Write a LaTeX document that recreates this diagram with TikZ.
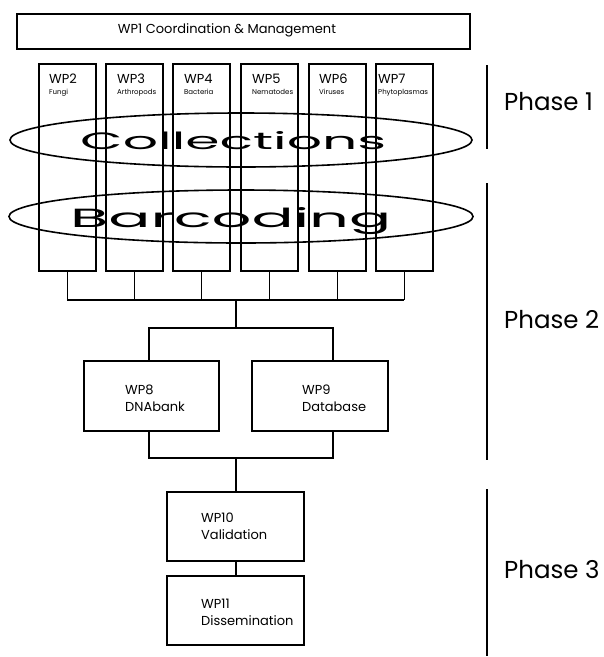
\documentclass[tikz,border=0pt]{standalone}
\usepackage{fontspec}
\setmainfont{Poppins}
\usetikzlibrary{shapes.geometric,calc}
\begin{document}
\begin{tikzpicture}[x=1pt,y=-1pt,
  box/.style={draw, line width=1.8pt, rectangle, inner sep=0pt, anchor=north west},
  conn/.style={line width=1.6pt},
  phaseline/.style={line width=1.6pt},
  oval/.style={draw, ellipse, line width=1.6pt, inner sep=0pt},
  lbl/.style={inner sep=0pt, anchor=base west, align=left},
  wpbig/.style={font=\fontsize{13}{17}\selectfont},
  wpsmall/.style={font=\fontsize{7}{8}\selectfont},
  phasefont/.style={font=\fontsize{24.5}{28}\selectfont},
]
\useasboundingbox (0,0) rectangle (604,657);

% WP1
\node[box, line width=2pt, minimum width=453.5pt, minimum height=35pt] (wp1) at (15.5,13) {};
\node[inner sep=0pt, anchor=base, wpbig] (wp1t) at (227,33) {WP1 Coordination \& Management};

% WP2--WP7
\foreach \i/\x/\lx/\name in {2/38/49/Fungi, 3/105/117/Arthropods, 4/172/184/Bacteria, 5/240/252/Nematodes, 6/308/319/Viruses, 7/375/378/Phytoplasmas}{
  \node[box, minimum width=57pt, minimum height=207pt] (wp\i) at (\x,63) {};
  \node[lbl, wpbig] (wp\i t) at (\lx,83) {WP\i};
  \node[lbl, wpsmall] (wp\i s) at (\lx,94.5) {\name};
}

% ellipses
\node[oval, minimum width=462pt, minimum height=54pt] (coll) at (241,140) {};
\node[oval, minimum width=464pt, minimum height=53pt] (barc) at (241,216.5) {};
\node[inner sep=0pt, anchor=base west] (collt) at (80,149.5) {\resizebox{306pt}{18pt}{Collections}};
\node[inner sep=0pt, anchor=base west] (barct) at (70,227) {\resizebox{321pt}{20pt}{Barcoding}};

% bus
\coordinate (bus) at (236,300);
\foreach \i in {2,...,7}{
  \draw[conn] (wp\i.south) -- (wp\i.south |- bus);
}
\draw[conn] (wp2.south |- bus) -- (wp7.south |- bus);

% WP8, WP9
\node[box, minimum width=135pt, minimum height=70pt] (wp8) at (83,360) {};
\node[box, minimum width=136pt, minimum height=70pt] (wp9) at (251,360) {};
\node[lbl, wpbig] (wp8t) at (125,411) {WP8\\DNAbank};
\node[lbl, wpbig] (wp9t) at (302,411) {WP9\\Database};

\coordinate (split) at (236,328);
\draw[conn] (bus) -- (split);
\draw[conn] ([xshift=-2.5pt]wp8.north) |- (split) -| ([xshift=13pt]wp9.north);

\coordinate (merge) at (236,458);
\draw[conn] ([xshift=-2.5pt]wp8.south) |- (merge) -| ([xshift=13pt]wp9.south);

% WP10, WP11
\node[box, minimum width=137pt, minimum height=69pt] (wp10) at (166,491) {};
\node[box, minimum width=137pt, minimum height=69pt] (wp11) at (166,575) {};
\node[lbl, wpbig] (wp10t) at (201,539) {WP10\\Validation};
\node[lbl, wpbig] (wp11t) at (201,625) {WP11\\Dissemination};

\draw[conn] (merge) -- (merge |- wp10.north);
\draw[conn] (merge |- wp10.south) -- (merge |- wp11.north);

% phases
\coordinate (p1a) at (487,65); \coordinate (p1b) at (487,149);
\coordinate (p2a) at (487,183); \coordinate (p2b) at (487,460);
\coordinate (p3a) at (487,489); \coordinate (p3b) at (487,656);
\draw[phaseline] (p1a) -- (p1b);
\draw[phaseline] (p2a) -- (p2b);
\draw[phaseline] (p3a) -- (p3b);
\node[inner sep=0pt, anchor=base west, phasefont] (ph1) at (504,110) {Phase 1};
\node[inner sep=0pt, anchor=base west, phasefont] (ph2) at (504,328) {Phase 2};
\node[inner sep=0pt, anchor=base west, phasefont] (ph3) at (504,578) {Phase 3};
\end{tikzpicture}
\end{document}
